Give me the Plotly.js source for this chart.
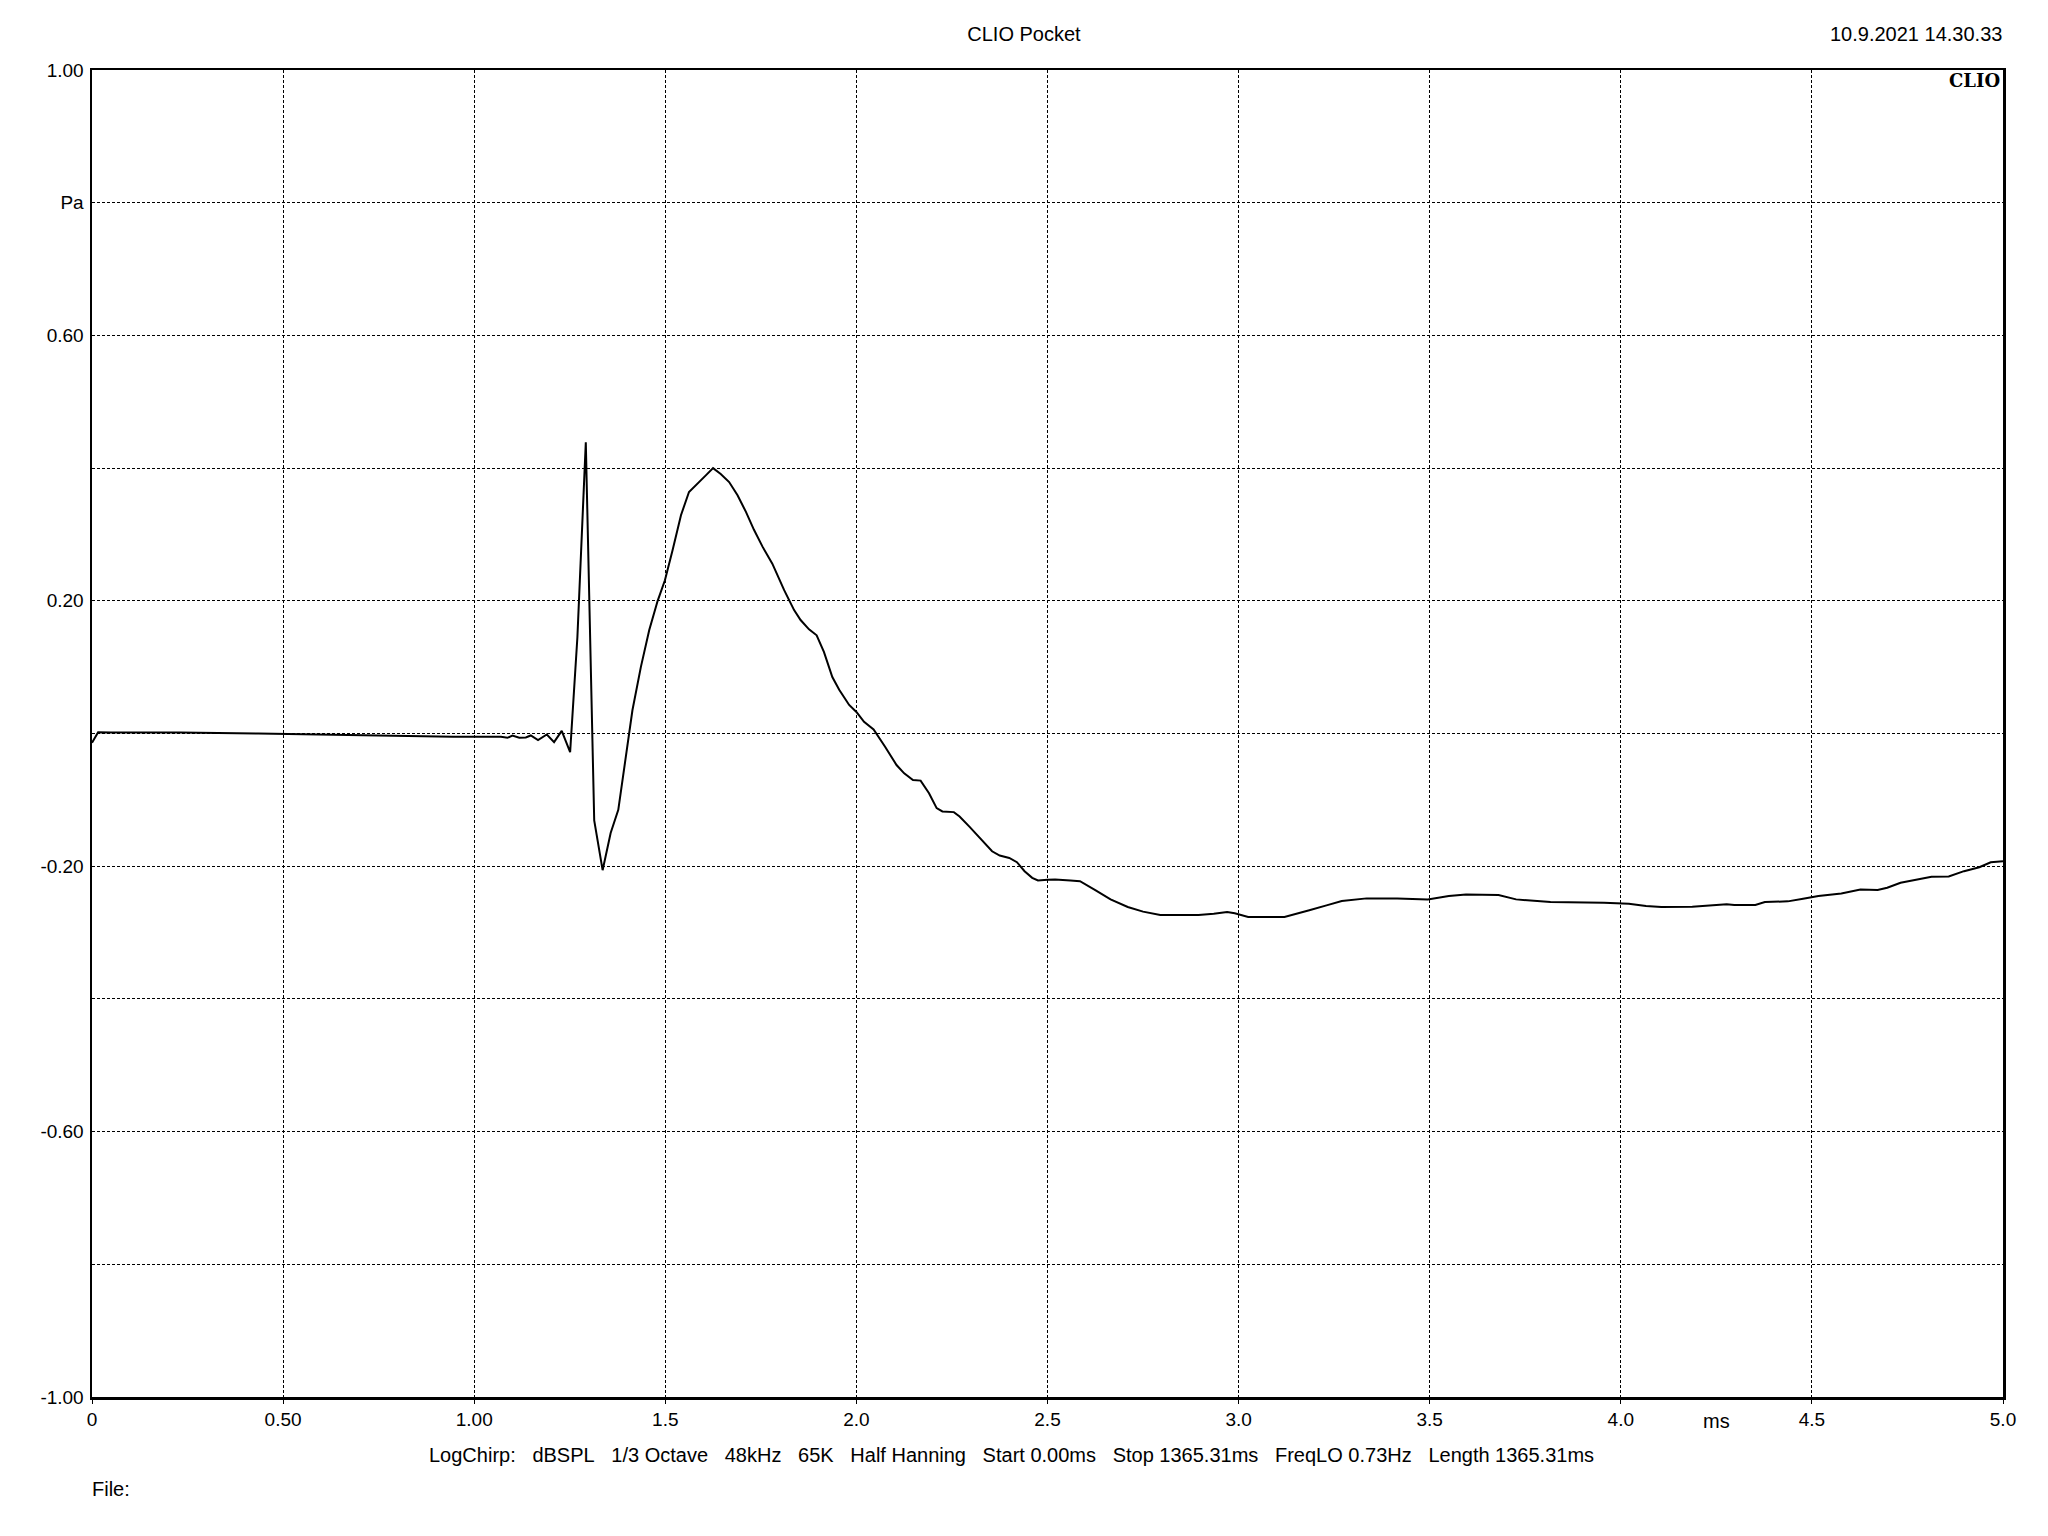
<!DOCTYPE html>
<html>
<head>
<meta charset="utf-8">
<script src="https://cdn.plot.ly/plotly-3.0.1.min.js"></script>
<style>
  html, body { margin: 0; padding: 0; background: #fff; }
  #chart { width: 2048px; height: 1536px; }
</style>
</head>
<body>
<div id="chart"></div>
<script>
// Time (ms)
const timeMs = [
  0, 0.016, 0.05, 0.23, 0.435, 0.6, 0.81, 0.945, 1.07, 1.087, 1.10, 1.118, 1.135, 1.148,
  1.167, 1.190, 1.209, 1.229, 1.251, 1.27, 1.292, 1.314, 1.336, 1.357, 1.377, 1.392,
  1.414, 1.436, 1.458, 1.480, 1.499, 1.519, 1.541, 1.562, 1.584, 1.606, 1.625, 1.645,
  1.667, 1.689, 1.711, 1.732, 1.754, 1.780, 1.811, 1.837, 1.854, 1.876, 1.896, 1.915,
  1.937, 1.955, 1.981, 2.0, 2.02, 2.045, 2.075, 2.105, 2.125, 2.148, 2.168, 2.19, 2.21,
  2.225, 2.255, 2.27, 2.295, 2.315, 2.355, 2.375, 2.40, 2.42, 2.44, 2.46, 2.475, 2.50,
  2.52, 2.56, 2.585, 2.625, 2.665, 2.71, 2.75, 2.795, 2.895, 2.935, 2.97, 2.99, 3.025,
  3.12, 3.155, 3.185, 3.23, 3.27, 3.335, 3.415, 3.495, 3.55, 3.595, 3.68, 3.726, 3.776,
  3.816, 3.956, 4.021, 4.066, 4.106, 4.187, 4.237, 4.277, 4.297, 4.352, 4.377, 4.437,
  4.477, 4.517, 4.577, 4.627, 4.672, 4.697, 4.732, 4.778, 4.813, 4.858, 4.898, 4.938,
  4.968, 5.0
];
// Pressure (Pa)
const pressurePa = [
  -0.014, 0.002, 0.0015, 0.0015, 0.0, -0.0015, -0.003, -0.005, -0.005, -0.0065, -0.003, -0.0065, -0.006, -0.003,
  -0.010, -0.0015, -0.013, 0.004, -0.028, 0.145, 0.439, -0.131, -0.206, -0.150, -0.115, -0.055,
  0.035, 0.100, 0.156, 0.200, 0.231, 0.276, 0.329, 0.364, 0.376, 0.389, 0.400, 0.391,
  0.379, 0.359, 0.334, 0.307, 0.282, 0.256, 0.216, 0.186, 0.171, 0.157, 0.148, 0.123,
  0.085, 0.066, 0.043, 0.0325, 0.0175, 0.006, -0.02, -0.0475, -0.06, -0.07, -0.071, -0.09, -0.1125,
  -0.1175, -0.1185, -0.125, -0.14, -0.1525, -0.1775, -0.184, -0.1875, -0.194, -0.2075, -0.2175, -0.2215, -0.2205,
  -0.22, -0.2215, -0.2225, -0.236, -0.25, -0.2615, -0.2685, -0.2735, -0.2735, -0.2715, -0.269, -0.271, -0.2765,
  -0.2765, -0.2715, -0.2665, -0.259, -0.2525, -0.2485, -0.2485, -0.25, -0.245, -0.2425, -0.2435, -0.25, -0.2525,
  -0.254, -0.255, -0.2565, -0.26, -0.2615, -0.261, -0.259, -0.2575, -0.2585, -0.2585, -0.254, -0.253,
  -0.249, -0.245, -0.241, -0.235, -0.236, -0.2325, -0.225, -0.22, -0.216, -0.2155, -0.2075, -0.2015,
  -0.194, -0.1925
];

const xTickVals = [0, 0.5, 1.0, 1.5, 2.0, 2.5, 3.0, 3.5, 4.0, 4.5, 5.0];
const xTickText = ["0", "0.50", "1.00", "1.5", "2.0", "2.5", "3.0", "3.5", "4.0", "4.5", "5.0"];
const yTickVals = [-1.0, -0.8, -0.6, -0.4, -0.2, 0.0, 0.2, 0.4, 0.6, 0.8, 1.0];
const yTickText = ["-1.00", "", "-0.60", "", "-0.20", "", "0.20", "", "0.60", "Pa", "1.00"];

const titleText = "CLIO Pocket";
const dateText = "10.9.2021 14.30.33";
const brandText = "CLIO";
const xUnitText = "ms";
const infoText = ["LogChirp:", "dBSPL", "1/3 Octave", "48kHz", "65K", "Half Hanning",
  "Start 0.00ms", "Stop 1365.31ms", "FreqLO 0.73Hz", "Length 1365.31ms"];
const fileText = "File:";

const FONT = '"Liberation Sans", Arial, sans-serif';
const sp = '\u00a0\u00a0\u00a0';
const TXT = { family: FONT, size: 20, color: '#000' };

const trace = {
  x: timeMs, y: pressurePa, type: 'scatter', mode: 'lines',
  line: { color: '#000', width: 2 }, hoverinfo: 'skip'
};

const axisCommon = {
  showline: true, mirror: true, linecolor: '#000', linewidth: 2.5,
  showgrid: true, gridcolor: '#000', gridwidth: 1, griddash: '3px,2px',
  zeroline: false, tickcolor: '#000',
  tickfont: { family: FONT, size: 19, color: '#000' }, tickmode: 'array'
};

const layout = {
  width: 2048, height: 1536,
  paper_bgcolor: '#fff', plot_bgcolor: '#fff',
  margin: { l: 91.5, r: 45, t: 70, b: 139, pad: 0 },
  showlegend: false,
  font: TXT,
  title: { text: titleText, x: 0.5, xref: 'container', xanchor: 'center',
           y: 1 - 34 / 1536, yref: 'container', yanchor: 'middle', font: TXT },
  xaxis: Object.assign({}, axisCommon, { range: [0, 5], tickvals: xTickVals, ticktext: xTickText,
           ticks: 'outside', ticklen: 4, tickwidth: 1 }),
  yaxis: Object.assign({}, axisCommon, { range: [-1, 1], tickvals: yTickVals, ticktext: yTickText,
           ticks: '', ticklabelstandoff: 2 }),
  annotations: [
    { text: dateText, xref: 'paper', yref: 'paper', x: 1, xanchor: 'right', xshift: 1,
      y: 1 + 36 / 1327, yanchor: 'middle', showarrow: false, font: TXT },
    { text: '<b>' + brandText + '</b>', xref: 'paper', yref: 'paper', x: 1, xanchor: 'right', xshift: -1,
      y: 1, yanchor: 'top', yshift: 2, showarrow: false,
      font: { family: '"DejaVu Serif", "Liberation Serif", serif', size: 18, color: '#000' } },
    { text: xUnitText, xref: 'x', yref: 'paper', x: 4.25, xanchor: 'center',
      y: -24 / 1327, yanchor: 'middle', showarrow: false, font: TXT },
    { text: infoText.join(sp), xref: 'paper', yref: 'paper', x: (1011 - 91.5) / 1911.5, xanchor: 'center',
      y: -58 / 1327, yanchor: 'middle', showarrow: false, font: TXT },
    { text: fileText, xref: 'paper', yref: 'paper', x: 0, xanchor: 'left', xshift: -2,
      y: -92 / 1327, yanchor: 'middle', showarrow: false, font: TXT }
  ]
};

Plotly.newPlot('chart', [trace], layout, { staticPlot: true, displayModeBar: false });
</script>
</body>
</html>
